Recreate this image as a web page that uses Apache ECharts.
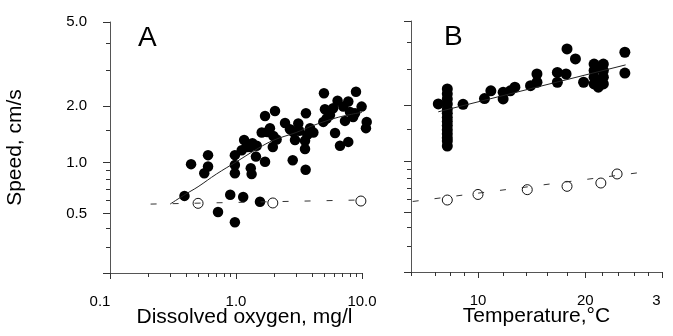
<!DOCTYPE html>
<html><head><meta charset="utf-8">
<script src="https://cdn.jsdelivr.net/npm/echarts@6/dist/echarts.min.js"></script>
<style>html,body{margin:0;padding:0;background:#fff}#c{width:673px;height:336px}</style>
</head><body><div id="c"></div>
<script>
// ---------- Panel A: speed vs dissolved oxygen ----------
const doFilled = [0.39,0.44,0.60,0.60,0.56,0.72,0.98,0.90,1.14,1.55,0.98,0.98,0.98,1.16,1.22,1.11,1.29,1.46,1.31,1.33,1.44,1.70,1.70,2.04,1.60,1.77,1.86,1.98,2.10,1.96,2.45,2.82,2.68,3.12,3.18,3.59,2.94,3.53,3.53,3.57,3.87,4.11,3.68,4.99,5.08,4.93,5.57,5.24,6.11,6.69,7.33,7.78,7.11,7.78,8.03,8.96,8.80,9.93,10.75,10.9,8.5,6.4,5.9,2.85,1.35];
const speedDoFilled = [0.64,0.98,1.10,0.95,0.87,0.51,0.44,0.65,0.63,0.59,1.10,0.97,0.87,1.33,1.22,1.17,1.22,1.24,0.93,0.86,1.08,1.01,1.78,1.89,1.46,1.47,1.54,1.40,1.34,1.22,1.64,1.03,1.52,1.63,1.49,1.84,1.33,1.32,1.19,0.91,1.54,1.46,1.42,2.32,1.93,1.66,1.80,1.73,1.45,1.24,1.68,1.30,1.99,2.11,1.87,2.36,1.84,1.99,1.54,1.66,1.76,2.13,1.95,1.47,1.28];
const doOpen = [0.50,1.96,9.8];
const speedDoOpen = [0.577,0.580,0.596];
const doFit = [0.3,0.4,0.5,0.7,1.0,1.5,2,3,4,6,8,10];
const speedDoFit = [0.571,0.657,0.726,0.861,1.007,1.20,1.33,1.46,1.58,1.73,1.81,1.86];
const doDash = [0.21,10];
const speedDoDash = [0.571,0.605];

// ---------- Panel B: speed vs temperature ----------
const tempFilled = [7.8,7.8,7.8,7.8,7.8,7.8,7.8,7.8,7.8,7.8,7.8,7.8,7.8,7.8,7.2,8.9,10.5,11.0,12.0,12.0,12.6,13.0,14.4,15.0,15.0,17.0,17.0,17.9,18.0,18.9,19.8,21.0,22.1,21.0,22.1,21.0,22.1,21.0,22.1,21.5,21.5,21.5,24.8,24.8];
const speedTempFilled = [2.41,2.28,2.15,2.03,1.91,1.82,1.73,1.65,1.57,1.49,1.42,1.35,1.30,1.22,2.03,2.02,2.16,2.36,2.15,2.32,2.36,2.46,2.50,2.60,2.85,2.60,2.90,2.85,3.74,3.36,2.60,3.18,3.18,2.96,2.96,2.75,2.75,2.55,2.55,3.07,2.65,2.46,3.61,2.88];
const tempOpen = [7.8,10.0,14.1,18.0,21.8,23.8];
const speedTempOpen = [0.596,0.644,0.688,0.720,0.753,0.850];
const tempFit = [7.2,24.9];
const speedTempFit = [1.85,3.15];
const tempDash = [5.6,26.9];
const speedTempDash = [0.584,0.867];

// ---------- ticks ----------
const speedLabelValues = [0.5,1.0,2.0,5.0];
const speedLabelText = ['0.5','1.0','2.0','5.0'];
const speedMajorTicks = [0.2,0.5,1.0,2.0,5.0];
const speedMinorTicks = [0.3,0.4,0.6,0.7,0.8,0.9,1.5,3,4];
const speedRange = [0.2,5];
const doLabelValues = [0.1,1,10];
const doLabelText = ['0.1','1.0','10.0'];
const doMinorTicks = [0.2,0.3,0.4,0.5,0.6,0.7,0.8,0.9,2,3,4,5,6,7,8,9];
const doRange = [0.1,10];
const tempLabelValues = [10,20,30];
const tempLabelText = ['10','20','3'];
const tempMinorTicks = [5.5,7,8,9,12,14,16,18,22,24,26,28];
const tempRange = [5.5,30];

// axis transforms (the original figure's axes are non-linear)
const fy = v => Math.pow(v, 0.15);
const fxA = v => Math.log10(v);
const fxB = v => Math.log10(v + 10.5);
const near = (a,b) => Math.abs(a-b) < 1e-7;
const FONT = 'Liberation Sans';

function pairs(xs, ys, fx) { return xs.map((x,i)=>[fx(x), fy(ys[i])]); }

function axis(o) {
  return {
    type:'value', gridIndex:o.grid, min:o.min, max:o.max, position:o.position,
    splitLine:{show:false}, nameMoveOverlap:false,
    axisLine:{show:!!o.line, onZero:false, lineStyle:{color:'#555', width:1}},
    axisTick:{show:true, inside:false, length:o.tickLen, customValues:o.ticks, lineStyle:{color:'#333', width:1}},
    axisLabel: o.labels ? Object.assign({show:true, fontFamily:FONT, fontSize:15, color:'#000'}, o.labels) : {show:false},
    name:o.name, nameLocation:'middle', nameGap:o.nameGap,
    nameTextStyle:o.nameStyle
  };
}

const chart = echarts.init(document.getElementById('c'), null, {renderer:'canvas'});
chart.setOption({
  animation:false,
  backgroundColor:'#fff',
  textStyle:{fontFamily:FONT},
  grid:[
    {left:110, top:22, width:252, height:251, containLabel:false, outerBoundsMode:'none'},
    {left:411, top:21, width:251, height:251, containLabel:false, outerBoundsMode:'none'}
  ],
  xAxis:[
    axis({grid:0, min:fxA(doRange[0]), max:fxA(doRange[1]), position:'bottom', line:true, tickLen:6,
      ticks:doLabelValues.map(fxA),
      labels:{margin:21, customValues:doLabelValues.map(fxA),
        formatter:(u)=>{const i=doLabelValues.findIndex(v=>near(fxA(v),u)); if(i===0) return '{s|'+doLabelText[i]+'}'; return i>=0?doLabelText[i]:'';},
        rich:{s:{fontFamily:FONT, fontSize:15, color:'#000', padding:[0,20,0,0]}}},
      name:'Dissolved oxygen, mg/l', nameGap:34,
      nameStyle:{fontFamily:FONT, fontSize:21, color:'#000', padding:[0,0,0,17]}}),
    axis({grid:0, min:fxA(doRange[0]), max:fxA(doRange[1]), position:'bottom', line:false, tickLen:4,
      ticks:doMinorTicks.map(fxA)}),
    axis({grid:1, min:fxB(tempRange[0]), max:fxB(tempRange[1]), position:'bottom', line:true, tickLen:6,
      ticks:tempLabelValues.map(fxB),
      labels:{margin:21, customValues:tempLabelValues.map(fxB),
        formatter:(u)=>{const i=tempLabelValues.findIndex(v=>near(fxB(v),u)); if(i===2) return '{s|'+tempLabelText[i]+'}'; return i>=0?tempLabelText[i]:'';},
        rich:{s:{fontFamily:FONT, fontSize:15, color:'#000', padding:[0,11,0,0]}}},
      name:'Temperature,°C', nameGap:34,
      nameStyle:{fontFamily:FONT, fontSize:21, color:'#000'}}),
    axis({grid:1, min:fxB(tempRange[0]), max:fxB(tempRange[1]), position:'bottom', line:false, tickLen:4,
      ticks:tempMinorTicks.map(fxB)})
  ],
  yAxis:[
    axis({grid:0, min:fy(speedRange[0]), max:fy(speedRange[1]), position:'left', line:true, tickLen:7,
      ticks:speedMajorTicks.map(fy),
      labels:{margin:23, customValues:speedLabelValues.map(fy),
        formatter:(u)=>{const i=speedLabelValues.findIndex(v=>near(fy(v),u)); return i>=0?speedLabelText[i]:'';}},
      name:'Speed, cm/s', nameGap:84,
      nameStyle:{fontFamily:FONT, fontSize:21, color:'#000'}}),
    axis({grid:0, min:fy(speedRange[0]), max:fy(speedRange[1]), position:'left', line:false, tickLen:4,
      ticks:speedMinorTicks.map(fy)}),
    axis({grid:1, min:fy(speedRange[0]), max:fy(speedRange[1]), position:'left', line:true, tickLen:7,
      ticks:speedMajorTicks.map(fy)}),
    axis({grid:1, min:fy(speedRange[0]), max:fy(speedRange[1]), position:'left', line:false, tickLen:4,
      ticks:speedMinorTicks.map(fy)})
  ],
  graphic:[
    {type:'text', left:138, top:24, style:{text:'A', fontFamily:FONT, fontSize:28, fill:'#000'}},
    {type:'text', left:444, top:23, style:{text:'B', fontFamily:FONT, fontSize:28, fill:'#000'}}
  ],
  series:[
    {type:'line', xAxisIndex:0, yAxisIndex:0, data:pairs(doFit, speedDoFit, fxA), smooth:0.4, showSymbol:false, silent:true,
      lineStyle:{color:'#222', width:1}},
    {type:'line', xAxisIndex:0, yAxisIndex:0, data:pairs(doDash, speedDoDash, fxA), showSymbol:false, silent:true,
      lineStyle:{color:'#333', width:1, type:[6,16]}},
    {type:'scatter', xAxisIndex:0, yAxisIndex:0, data:pairs(doOpen, speedDoOpen, fxA), symbolSize:10, clip:false,
      itemStyle:{color:'rgba(0,0,0,0)', borderColor:'#111', borderWidth:1, opacity:1}},
    {type:'scatter', xAxisIndex:0, yAxisIndex:0, data:pairs(doFilled, speedDoFilled, fxA), symbolSize:10.5, clip:false,
      itemStyle:{color:'#000', opacity:1}},
    {type:'line', xAxisIndex:2, yAxisIndex:2, data:pairs(tempFit, speedTempFit, fxB), showSymbol:false, silent:true,
      lineStyle:{color:'#222', width:1}},
    {type:'line', xAxisIndex:2, yAxisIndex:2, data:pairs(tempDash, speedTempDash, fxB), showSymbol:false, silent:true,
      lineStyle:{color:'#333', width:1, type:[6,16]}},
    {type:'scatter', xAxisIndex:2, yAxisIndex:2, data:pairs(tempOpen, speedTempOpen, fxB), symbolSize:10, clip:false,
      itemStyle:{color:'rgba(0,0,0,0)', borderColor:'#111', borderWidth:1, opacity:1}},
    {type:'scatter', xAxisIndex:2, yAxisIndex:2, data:pairs(tempFilled, speedTempFilled, fxB), symbolSize:11, clip:false,
      itemStyle:{color:'#000', opacity:1}}
  ]
});
</script></body></html>
